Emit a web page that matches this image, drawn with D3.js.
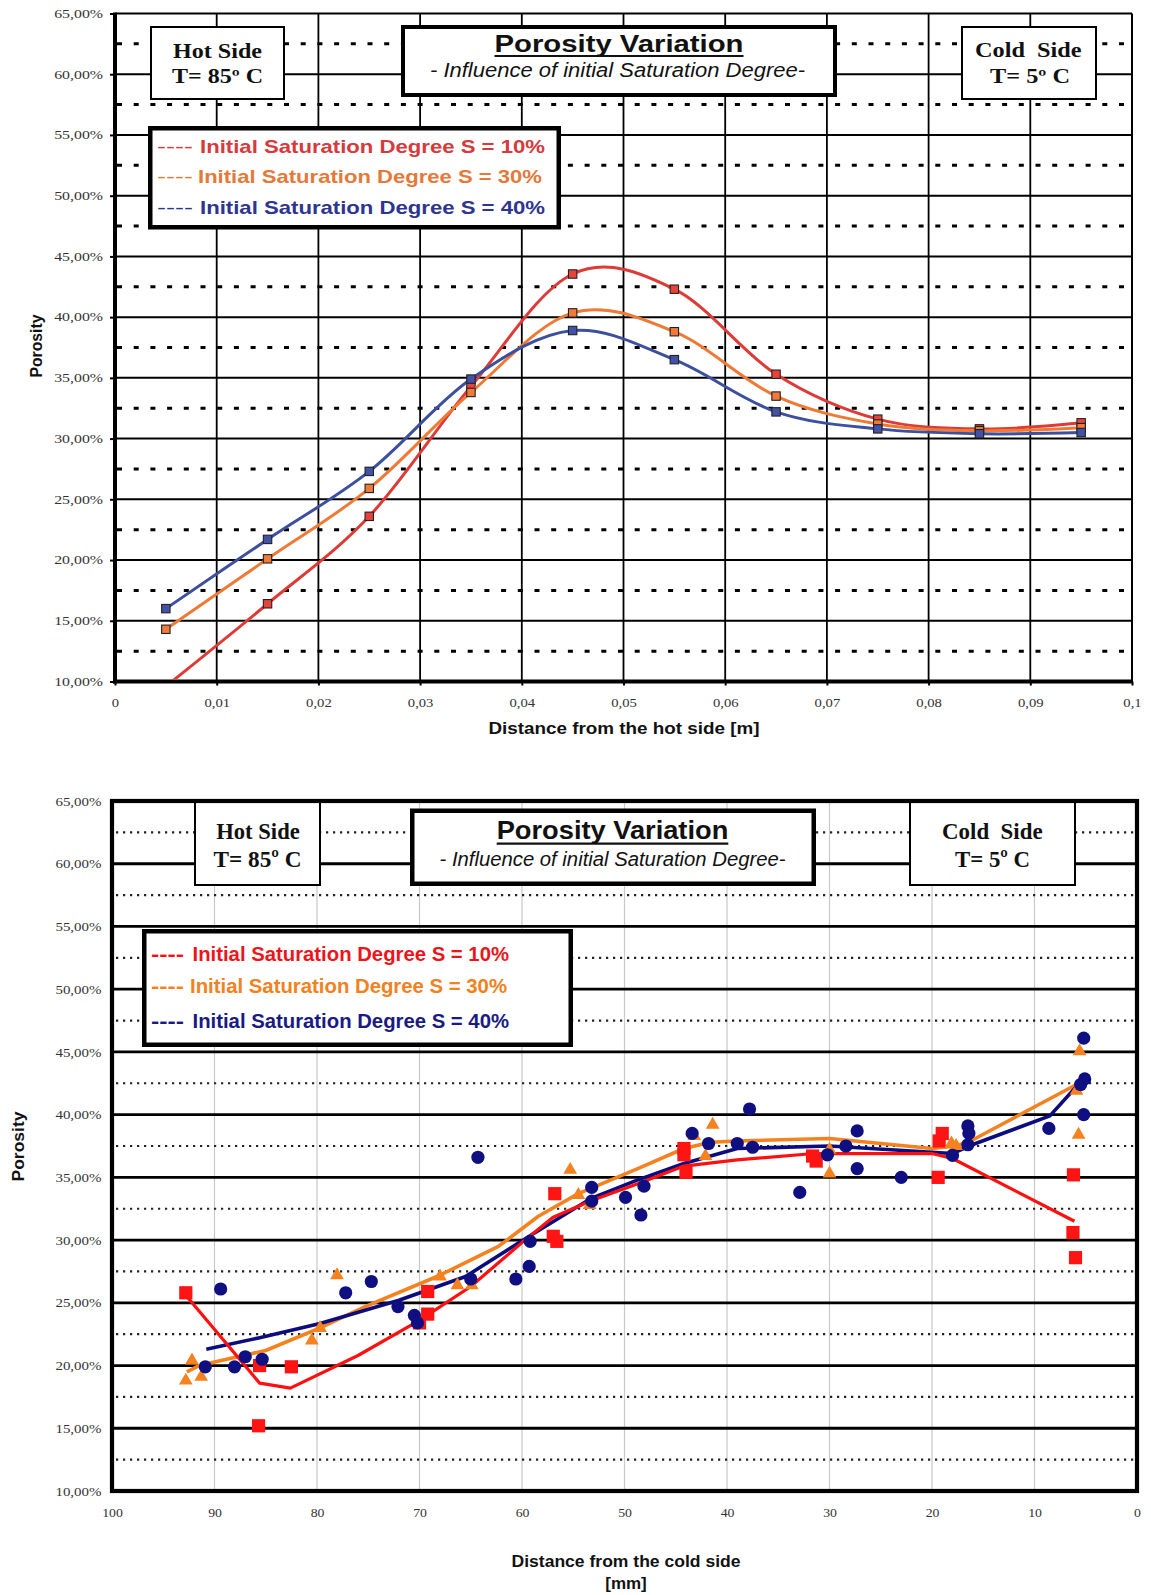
<!DOCTYPE html>
<html>
<head>
<meta charset="utf-8">
<script src="https://cdn.jsdelivr.net/npm/d3@7"></script>
<style>
  body { margin: 0; background: #fff; }
  svg { display: block; }
  text { white-space: pre; }
</style>
</head>
<body>
<svg id="fig" width="1151" height="1595"></svg>
<script>
// ---------- Upper chart: porosity along the sample, measured from the hot side (m)
const hotPositions = [0.005, 0.015, 0.025, 0.035, 0.045, 0.055, 0.065, 0.075, 0.085, 0.095];
const porosityS10 = [9.6, 16.4, 23.6, 34.3, 43.55, 42.3, 35.3, 31.6, 30.8, 31.3];
const porosityS30 = [14.3, 20.1, 25.9, 33.8, 40.35, 38.8, 33.5, 31.2, 30.65, 30.9];
const porosityS40 = [16.0, 21.7, 27.3, 34.9, 38.9, 36.5, 32.2, 30.8, 30.4, 30.5];
const hotTicks = [0, 0.01, 0.02, 0.03, 0.04, 0.05, 0.06, 0.07, 0.08, 0.09, 0.1];
const hotTickLabels = ["0", "0,01", "0,02", "0,03", "0,04", "0,05", "0,06", "0,07", "0,08", "0,09", "0,1"];

// shared porosity axis (%)
const porosityTicks = [10, 15, 20, 25, 30, 35, 40, 45, 50, 55, 60, 65];
const porosityTickLabels = ["10,00%", "15,00%", "20,00%", "25,00%", "30,00%", "35,00%",
                            "40,00%", "45,00%", "50,00%", "55,00%", "60,00%", "65,00%"];
const porosityHalfSteps = [12.5, 17.5, 22.5, 27.5, 32.5, 37.5, 42.5, 47.5, 52.5, 57.5, 62.5];

// ---------- Lower chart: measured points [distance from cold side (mm), porosity (%)]
const coldS10 = [[92.8, 25.8], [85.6, 20.0], [82.5, 19.9], [85.7, 15.2], [69.2, 25.9], [69.2, 24.1],
  [70.0, 23.4], [56.8, 33.7], [56.95, 30.3], [56.6, 29.9], [44.2, 37.3], [44.2, 36.8], [44.0, 35.4],
  [31.65, 36.7], [31.3, 36.3], [19.0, 38.5], [19.3, 37.9], [19.4, 35.0], [6.2, 35.2], [6.25, 30.6], [6.0, 28.6]];
const coldS30 = [[92.8, 18.8], [92.2, 20.4], [91.3, 19.1], [80.5, 22.0], [79.7, 23.0], [78.05, 27.2],
  [68.0, 27.1], [66.3, 26.4], [64.9, 26.4], [55.3, 35.6], [54.5, 33.6], [53.4, 32.8], [43.2, 38.3],
  [41.4, 39.2], [42.1, 36.7], [30.0, 37.2], [30.0, 35.3], [18.1, 37.7], [17.65, 37.5], [5.6, 45.05],
  [5.9, 41.9], [5.7, 38.4]];
const coldS40 = [[90.9, 19.9], [89.4, 26.1], [88.05, 19.9], [87.0, 20.7], [85.35, 20.5], [77.2, 25.8],
  [74.7, 26.7], [72.1, 24.7], [70.5, 24.0], [70.2, 23.4], [64.3, 36.6], [65.0, 26.9], [60.6, 26.9],
  [59.3, 27.9], [59.2, 29.9], [53.2, 34.2], [53.2, 33.1], [49.9, 33.4], [48.1, 34.3], [48.4, 32.0],
  [43.4, 38.5], [41.8, 37.7], [39.0, 37.7], [37.8, 40.45], [37.5, 37.4], [32.9, 33.8], [30.2, 36.8],
  [28.4, 37.5], [27.3, 38.7], [27.3, 35.7], [23.0, 35.0], [18.0, 36.75], [16.5, 39.1], [16.4, 38.5],
  [16.5, 37.6], [8.6, 38.9], [5.2, 46.1], [5.1, 42.85], [5.5, 42.4], [5.2, 40.0]];

// trend lines through each set of points
const trendS10 = [[92.8, 25.6], [85.6, 18.6], [82.6, 18.2], [76, 20.8], [70, 23.6], [65, 26.3], [60, 29.8],
  [57, 31.8], [53.4, 33.1], [48.7, 34.5], [44.2, 35.9], [39, 36.4], [31.5, 36.9], [20, 36.9], [18, 36.5], [6.1, 31.5]];
const trendS30 = [[92.7, 19.5], [91.5, 20.0], [85, 21.2], [79.7, 23.0], [75.3, 24.7], [68, 27.2], [62.3, 29.5],
  [58.4, 31.9], [54.5, 33.7], [48.7, 35.7], [44.2, 37.3], [41.6, 37.8], [39, 37.9], [30, 38.1], [20, 37.3],
  [17.6, 37.5], [16, 38.0], [5.9, 42.4]];
const trendS40 = [[90.8, 21.3], [85.7, 22.2], [79.7, 23.35], [72, 25.2], [65.5, 27.1], [59.3, 30.3],
  [56.5, 31.7], [53.2, 33.35], [48.7, 34.8], [44.2, 36.1], [39, 37.3], [30, 37.5], [20, 37.0], [18, 36.9],
  [16.4, 37.5], [8.5, 39.9], [5.4, 42.7]];
const coldTicks = [100, 90, 80, 70, 60, 50, 40, 30, 20, 10, 0];
const coldTickLabels = ["100", "90", "80", "70", "60", "50", "40", "30", "20", "10", "0"];

const legendLabels = ["Initial Saturation Degree S = 10%", "Initial Saturation Degree S = 30%",
                      "Initial Saturation Degree S = 40%"];

// ---------- helpers
const SERIF = "'Liberation Serif','Times New Roman',serif";
const SANS = "'Liberation Sans',Arial,sans-serif";
const svg = d3.select("#fig");

function addText(parent, str, o) {
  const t = parent.append("text")
    .text(str)
    .attr("x", o.x).attr("y", o.y)
    .attr("font-family", o.family || SANS)
    .attr("font-size", o.size)
    .attr("font-weight", o.weight || "normal")
    .attr("font-style", o.style || "normal")
    .attr("fill", o.fill || "#111")
    .attr("text-anchor", o.anchor || "middle");
  if (o.width) t.attr("textLength", o.width).attr("lengthAdjust", "spacingAndGlyphs");
  if (o.rotate) t.attr("transform", `rotate(${o.rotate},${o.x},${o.y})`);
  return t;
}

function addBox(parent, x0, y0, x1, y1, sw) {
  // outer edges given; stroke drawn inside them
  parent.append("rect")
    .attr("x", x0 + sw / 2).attr("y", y0 + sw / 2)
    .attr("width", x1 - x0 - sw).attr("height", y1 - y0 - sw)
    .attr("fill", "#fff").attr("stroke", "#000").attr("stroke-width", sw);
}

function stretchLabels(axisG, factor) {
  axisG.selectAll("text").each(function () {
    const w = this.getComputedTextLength();
    d3.select(this).attr("textLength", w * factor).attr("lengthAdjust", "spacingAndGlyphs");
  });
}

// ============================================================ UPPER CHART
(function () {
  const box = { left: 115, right: 1132, top: 13.5, bottom: 681.5 };
  const x = d3.scaleLinear().domain([0, 0.1]).range([box.left, box.right]);
  const y = d3.scaleLinear().domain([10, 65]).range([box.bottom, box.top]);
  const g = svg.append("g");

  // dashed half-step lines
  g.append("g").selectAll("line").data(porosityHalfSteps).join("line")
    .attr("x1", box.left + 2).attr("x2", box.right)
    .attr("y1", d => y(d)).attr("y2", d => y(d))
    .attr("stroke", "#000").attr("stroke-width", 3).attr("stroke-dasharray", "5,11.7");
  // solid grid
  g.append("g").selectAll("line").data(porosityTicks.slice(1, -1)).join("line")
    .attr("x1", box.left).attr("x2", box.right)
    .attr("y1", d => y(d)).attr("y2", d => y(d))
    .attr("stroke", "#000").attr("stroke-width", 2);
  g.append("g").selectAll("line").data(hotTicks.slice(1, -1)).join("line")
    .attr("x1", d => x(d)).attr("x2", d => x(d))
    .attr("y1", box.top).attr("y2", box.bottom)
    .attr("stroke", "#000").attr("stroke-width", 1.8);
  // frame
  g.append("line").attr("x1", box.left).attr("x2", box.right).attr("y1", box.top).attr("y2", box.top)
    .attr("stroke", "#000").attr("stroke-width", 2);
  g.append("line").attr("x1", box.right).attr("x2", box.right).attr("y1", box.top).attr("y2", box.bottom)
    .attr("stroke", "#000").attr("stroke-width", 2);

  // axes
  const yAxis = g.append("g").attr("transform", `translate(${box.left},0)`)
    .call(d3.axisLeft(y).tickValues(porosityTicks).tickFormat((d, i) => porosityTickLabels[i])
      .tickSize(5).tickPadding(7));
  yAxis.select(".domain").remove();
  yAxis.selectAll("line").attr("stroke-width", 2);
  yAxis.selectAll("text").attr("font-family", SERIF).attr("font-size", 12).attr("fill", "#333");
  stretchLabels(yAxis, 1.32);

  const xAxis = g.append("g").attr("transform", `translate(0,${box.bottom})`)
    .call(d3.axisBottom(x).tickValues(hotTicks).tickFormat((d, i) => hotTickLabels[i]).tickSize(4));
  xAxis.select(".domain").remove();
  xAxis.selectAll("line").attr("stroke-width", 2);
  xAxis.selectAll("text").attr("y", 17).attr("font-family", SERIF).attr("font-size", 12).attr("fill", "#333");
  stretchLabels(xAxis, 1.22);

  g.append("line").attr("x1", box.left).attr("x2", box.left).attr("y1", box.top - 1).attr("y2", box.bottom + 2)
    .attr("stroke", "#000").attr("stroke-width", 4);
  g.append("line").attr("x1", box.left - 2).attr("x2", box.right + 1).attr("y1", box.bottom).attr("y2", box.bottom)
    .attr("stroke", "#000").attr("stroke-width", 4);

  // annotation boxes
  addBox(g, 150, 26, 285, 100, 2);
  addText(g, "Hot Side", { x: 217.5, y: 57.5, size: 20, weight: "bold", family: SERIF, width: 89 });
  addText(g, "T= 85º C", { x: 217.5, y: 82.7, size: 20, weight: "bold", family: SERIF, width: 91 });

  addBox(g, 401, 25, 837, 97, 4);
  addText(g, "Porosity Variation", { x: 619, y: 51.7, size: 23, weight: "bold", width: 249 });
  g.append("line").attr("x1", 494.5).attr("x2", 743.5).attr("y1", 56).attr("y2", 56)
    .attr("stroke", "#111").attr("stroke-width", 2);
  addText(g, "- Influence of initial Saturation Degree-",
    { x: 617.5, y: 77.3, size: 19.5, style: "italic", width: 375 });

  addBox(g, 961, 26, 1097, 100, 2);
  addText(g, "Cold  Side", { x: 1028.3, y: 57.3, size: 20, weight: "bold", family: SERIF, width: 106.7 });
  addText(g, "T= 5º C", { x: 1030, y: 82.7, size: 20, weight: "bold", family: SERIF, width: 80 });

  // legend
  const legendColors = ["#d63a3d", "#e5793a", "#2e3590"];
  addBox(g, 148, 126, 561, 229.5, 4.5);
  const rowsY = [152.7, 183.3, 214.3];
  legendLabels.forEach((s, i) => {
    addText(g, "----", { x: 157, y: rowsY[i], size: 19, anchor: "start", fill: legendColors[i], width: 36 });
    addText(g, s, { x: i === 1 ? 198 : 200, y: rowsY[i], size: 19, weight: "bold", anchor: "start",
      fill: legendColors[i], width: i === 1 ? 344 : 345 });
  });

  // axis titles
  addText(g, "Porosity", { x: 41.5, y: 346, size: 16, weight: "bold", rotate: -90, width: 63 });
  addText(g, "Distance from the hot side [m]", { x: 624, y: 734, size: 16.5, weight: "bold", width: 271 });

  // data
  svg.append("clipPath").attr("id", "clipTop").append("rect")
    .attr("x", box.left + 2).attr("y", box.top).attr("width", box.right - box.left - 2)
    .attr("height", box.bottom - box.top - 2);
  const dataG = g.append("g").attr("clip-path", "url(#clipTop)");
  const series = [
    { values: porosityS10, line: "#de3b37", fill: "#e8423c" },
    { values: porosityS30, line: "#ee7a35", fill: "#f07a3a" },
    { values: porosityS40, line: "#3d4f9f", fill: "#4252a6" }
  ];
  const line = d3.line().x((d, i) => x(hotPositions[i])).y(d => y(d)).curve(d3.curveCardinal.tension(0));
  series.forEach(s => {
    dataG.append("path").attr("d", line(s.values)).attr("fill", "none")
      .attr("stroke", s.line).attr("stroke-width", 3);
    dataG.append("g").selectAll("rect").data(s.values).join("rect")
      .attr("x", (d, i) => x(hotPositions[i]) - 4.2).attr("y", d => y(d) - 4.2)
      .attr("width", 8.4).attr("height", 8.4)
      .attr("fill", s.fill).attr("stroke", "#222").attr("stroke-width", 1.1);
  });
})();

// ============================================================ LOWER CHART
(function () {
  const box = { left: 112, right: 1137, top: 801, bottom: 1491 };
  const x = d3.scaleLinear().domain([100, 0]).range([box.left, box.right]);
  const y = d3.scaleLinear().domain([10, 65]).range([box.bottom, box.top]);
  const g = svg.append("g");

  // light vertical grid
  g.append("g").selectAll("line").data(coldTicks.slice(1, -1)).join("line")
    .attr("x1", d => x(d)).attr("x2", d => x(d))
    .attr("y1", box.top).attr("y2", box.bottom)
    .attr("stroke", "#c8c8c8").attr("stroke-width", 1.2);
  // dotted half-step lines
  g.append("g").selectAll("line").data(porosityHalfSteps).join("line")
    .attr("x1", box.left + 4).attr("x2", box.right - 2)
    .attr("y1", d => y(d)).attr("y2", d => y(d))
    .attr("stroke", "#222").attr("stroke-width", 2.2).attr("stroke-dasharray", "2.2,4.8");
  // solid horizontal grid
  g.append("g").selectAll("line").data(porosityTicks.slice(1, -1)).join("line")
    .attr("x1", box.left).attr("x2", box.right)
    .attr("y1", d => y(d)).attr("y2", d => y(d))
    .attr("stroke", "#000").attr("stroke-width", 2.8);

  // axes labels
  const yAxis = g.append("g").attr("transform", `translate(${box.left},0)`)
    .call(d3.axisLeft(y).tickValues(porosityTicks).tickFormat((d, i) => porosityTickLabels[i])
      .tickSize(0).tickPadding(10.5));
  yAxis.select(".domain").remove();
  yAxis.selectAll("text").attr("font-family", SERIF).attr("font-size", 13).attr("fill", "#333");
  stretchLabels(yAxis, 1.15);

  const xAxis = g.append("g").attr("transform", `translate(0,${box.bottom})`)
    .call(d3.axisBottom(x).tickValues(coldTicks).tickFormat((d, i) => coldTickLabels[i]).tickSize(0));
  xAxis.select(".domain").remove();
  xAxis.selectAll("text").attr("y", 17).attr("font-family", SERIF).attr("font-size", 13).attr("fill", "#333");
  stretchLabels(xAxis, 1.06);

  // annotation boxes
  addBox(g, 194, 801, 321, 886, 2);
  addText(g, "Hot Side", { x: 258, y: 839.3, size: 24, weight: "bold", family: SERIF, width: 83.5 });
  addText(g, "T= 85º C", { x: 257.5, y: 867.3, size: 24, weight: "bold", family: SERIF, width: 88 });

  addBox(g, 410, 808.5, 816, 886, 4.5);
  addText(g, "Porosity Variation", { x: 612.5, y: 839.3, size: 26, weight: "bold", width: 231.6 });
  g.append("line").attr("x1", 496.7).attr("x2", 728.3).attr("y1", 843.6).attr("y2", 843.6)
    .attr("stroke", "#111").attr("stroke-width", 2.2);
  addText(g, "- Influence of initial Saturation Degree-",
    { x: 612.5, y: 865.7, size: 19.5, style: "italic", width: 346 });

  addBox(g, 909, 801, 1076, 886, 2);
  addText(g, "Cold  Side", { x: 992.3, y: 839.3, size: 24, weight: "bold", family: SERIF, width: 100.5 });
  addText(g, "T= 5º C", { x: 992.5, y: 867, size: 24, weight: "bold", family: SERIF, width: 75 });

  // legend
  const legendColors = ["#ee141c", "#f2811e", "#1a1a85"];
  addBox(g, 142, 929, 573, 1047, 4.5);
  const rowsY = [961, 993.3, 1028.3];
  legendLabels.forEach((s, i) => {
    addText(g, "----", { x: 151, y: rowsY[i], size: 21, weight: "bold", anchor: "start",
      fill: legendColors[i], width: 33 });
    addText(g, s, { x: i === 1 ? 190 : 192.5, y: rowsY[i], size: 21, weight: "bold", anchor: "start",
      fill: legendColors[i], width: i === 1 ? 317 : 316.5 });
  });

  // axis titles
  addText(g, "Porosity", { x: 23.5, y: 1146.5, size: 17, weight: "bold", rotate: -90, width: 70 });
  addText(g, "Distance from the cold side", { x: 626, y: 1567, size: 17, weight: "bold", width: 229 });
  addText(g, "[mm]", { x: 626, y: 1589, size: 17, weight: "bold" });

  // frame
  g.append("rect").attr("x", box.left).attr("y", box.top)
    .attr("width", box.right - box.left).attr("height", box.bottom - box.top)
    .attr("fill", "none").attr("stroke", "#000").attr("stroke-width", 4.2);

  // data
  const dataG = g.append("g");
  const line = d3.line().x(d => x(d[0])).y(d => y(d[1]));
  [[trendS30, "#f5821f", 3.6], [trendS40, "#0c0c7e", 3.6], [trendS10, "#ff1010", 3.2]].forEach(([pts, c, w]) => {
    dataG.append("path").attr("d", line(pts)).attr("fill", "none")
      .attr("stroke", c).attr("stroke-width", w).attr("stroke-linejoin", "round");
  });

  dataG.append("g").selectAll("rect").data(coldS10).join("rect")
    .attr("x", d => x(d[0]) - 6.6).attr("y", d => y(d[1]) - 6.6)
    .attr("width", 13.2).attr("height", 13.2).attr("fill", "#ff1414");
  const tri = d3.symbol().type(d3.symbolTriangle).size(82);
  dataG.append("g").selectAll("path").data(coldS30).join("path")
    .attr("d", tri).attr("transform", d => `translate(${x(d[0])},${y(d[1])})`)
    .attr("fill", "#f5821f");
  dataG.append("g").selectAll("circle").data(coldS40).join("circle")
    .attr("cx", d => x(d[0])).attr("cy", d => y(d[1])).attr("r", 6.6)
    .attr("fill", "#0f0f82");
})();
</script>
</body>
</html>
